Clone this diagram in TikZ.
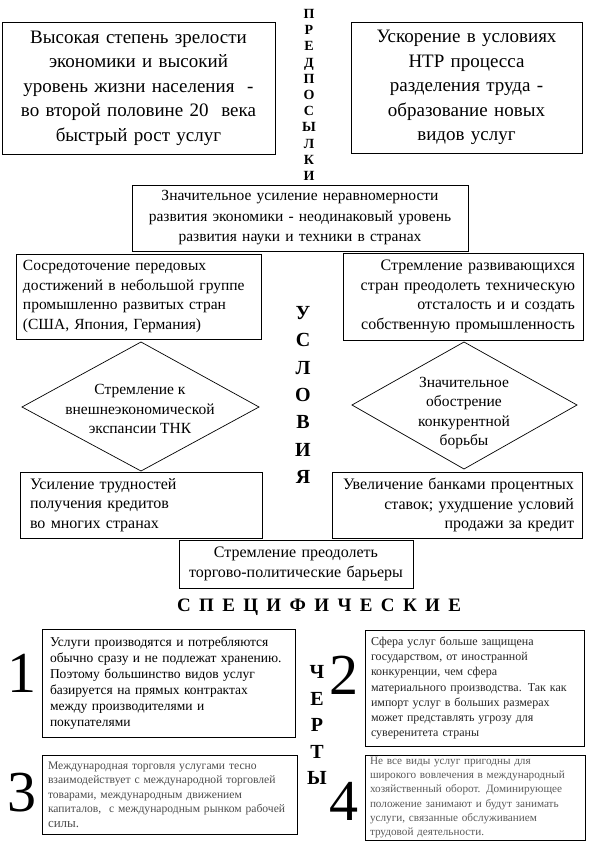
\documentclass[tikz,border=0pt]{standalone}
\usepackage{fontspec}
\setmainfont{Liberation Serif}
\newcommand\fsz[2]{\fontsize{#1}{#2}\selectfont}
\tikzset{
  box/.style={draw, line width=0.9pt, inner sep=0pt, align=center},
  lbox/.style={draw, line width=0.9pt, inner sep=0pt, align=left},
  rbox/.style={draw, line width=0.9pt, inner sep=0pt, align=right},
  dia/.style={line width=0.7pt},
  vlet/.style={inner sep=0pt, align=center, font=\bfseries},
  digit/.style={inner sep=0pt, font=\fsz{58}{58}},
}
\begin{document}
\begin{tikzpicture}[x=1pt,y=-1pt]
\useasboundingbox (0,0) rectangle (591,846);
% top boxes
\node[box, minimum width=273pt, minimum height=132pt, text width=265pt, font=\fsz{19}{24.5}] (A) at (138.5,88)
 {Высокая степень зрелости\\экономики и высокий\\уровень жизни населения \ -\\во второй половине 20 \ века\\быстрый рост услуг};
\node[box, minimum width=231pt, minimum height=131pt, text width=223pt, font=\fsz{19}{24.5}] (B) at (466.5,87.5)
 {Ускорение в условиях\\НТР процесса\\разделения труда -\\образование новых\\видов услуг};
\node[vlet, font=\bfseries\fsz{14}{16.2}] (pred) at (309,95)
 {П\\Р\\Е\\Д\\П\\О\\С\\Ы\\Л\\К\\И};
% center box
\node[box, minimum width=336pt, minimum height=66pt, text width=330pt, font=\fsz{15.5}{20.5}] (C) at (300,218)
 {Значительное усиление неравномерности\\развития экономики - неодинаковый уровень\\развития науки и техники в странах};
\node[lbox, minimum width=245pt, minimum height=85pt, text width=231pt, font=\fsz{15.5}{19.5}] (D) at (138.5,296.5)
 {Сосредоточение передовых\\достижений в небольшой группе\\промышленно развитых стран\\(США, Япония, Германия)};
\node[rbox, minimum width=240pt, minimum height=87pt, text width=224pt, font=\fsz{16}{19.5}] (E) at (463,296.5)
 {Стремление развивающихся\\стран преодолеть техническую\\отсталость и и создать\\собственную промышленность};
% diamonds
\draw[dia] (141,342) -- (259,407) -- (141,471) -- (22,407) -- cycle;
\node[inner sep=0pt, align=center, font=\fsz{15.5}{19.5}] (d1) at (140,409)
 {Стремление к\\внешнеэкономической\\экспансии ТНК};
\draw[dia] (464,342) -- (577,405) -- (464,469) -- (352,405) -- cycle;
\node[inner sep=0pt, align=center, font=\fsz{15.5}{19.5}] (d2) at (464,413)
 {Значительное\\обострение\\конкурентной\\борьбы};
\node[vlet, font=\bfseries\fsz{20}{27.3}] (usl) at (303,395)
 {У\\С\\Л\\О\\В\\И\\Я};
% lower boxes
\node[lbox, minimum width=242pt, minimum height=66pt, text width=222pt, font=\fsz{16}{19.5}] (F) at (141,505)
 {Усиление трудностей\\получения кредитов\\во многих странах};
\node[rbox, minimum width=250pt, minimum height=66pt, text width=234pt, font=\fsz{16}{19.5}] (G) at (457,505)
 {Увеличение банками процентных\\ставок; ухудшение условий\\продажи за кредит};
\node[box, minimum width=234pt, minimum height=48pt, text width=226pt, font=\fsz{16}{19.5}] (H) at (296,564)
 {Стремление преодолеть\\торгово-политические барьеры};
% specific features
\node[inner sep=0pt, font=\bfseries\fsz{19}{19}] (spec) at (319,607)
 {\hbox to 284pt{С\hfil П\hfil Е\hfil Ц\hfil И\hfil Ф\hfil И\hfil Ч\hfil Е\hfil С\hfil К\hfil И\hfil Е}};
\node[vlet, font=\bfseries\fsz{20}{26.5}] (cherty) at (317,725)
 {Ч\\Е\\Р\\Т\\Ы};
\node[digit] (n1) at (22,673) {1};
\node[digit] (n2) at (344,675) {2};
\node[digit] (n3) at (22,793) {3};
\node[digit] (n4) at (344,801) {4};
\node[lbox, minimum width=253pt, minimum height=108pt, text width=237pt, font=\fsz{13.5}{16}] (b1) at (168.5,683)
 {Услуги производятся и потребляются\\обычно сразу и не подлежат хранению.\\Поэтому большинство видов услуг\\базируется на прямых контрактах\\между производителями и\\покупателями};
\node[lbox, minimum width=219pt, minimum height=116pt, text width=207pt, font=\fsz{12}{15.2}, text=black!85] (b2) at (474.5,688)
 {Сфера услуг больше защищена\\государством, от иностранной\\конкуренции, чем сфера\\материального производства. Так как\\импорт услуг в больших размерах\\может представлять угрозу для\\суверенитета страны};
\node[lbox, minimum width=255pt, minimum height=79pt, text width=243pt, font=\fsz{11.6}{14.5}, text=black!70] (b3) at (169.5,794.5)
 {Международная торговля услугами тесно\\взаимодействует с международной торговлей\\товарами, международным движением\\капиталов, \ с международным рынком рабочей\\{\fsz{13}{14.5}силы.}};
\node[lbox, minimum width=220pt, minimum height=85pt, text width=210pt, font=\fsz{11.2}{14.3}, text=black!65] (b4) at (475,797.5)
 {Не все виды услуг пригодны для\\широкого вовлечения в международный\\хозяйственный оборот. Доминирующее\\положение занимают и будут занимать\\услуги, связанные обслуживанием\\трудовой деятельности.};
\end{tikzpicture}
\end{document}
